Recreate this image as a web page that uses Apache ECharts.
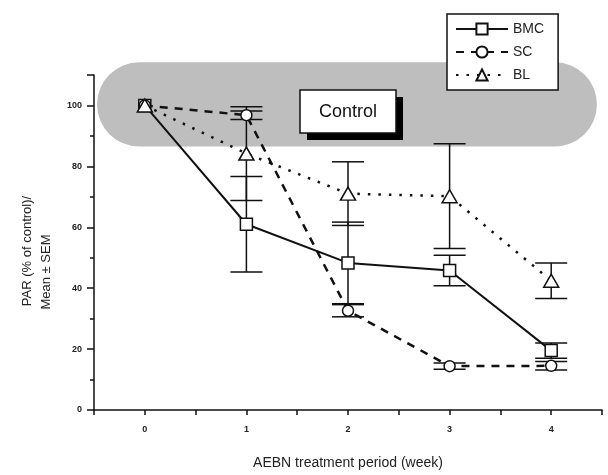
<!DOCTYPE html>
<html lang="en">
<head>
    <meta charset="UTF-8">
    <title>PAR</title>
</head>
<style>
    html, body { margin: 0; padding: 0; background: #fff; }
    #chart { width: 608px; height: 475px; }
</style>
<body>
<div id="chart"></div>
</body>
<script src="https://cdn.jsdelivr.net/npm/echarts@6/dist/echarts.min.js"></script>
<script>
    // weeks of AEBN treatment
    var weeks = [0, 1, 2, 3, 4];
    var xTicks = ['0', '1', '2', '3', '4'];
    var yTicks = [0, 20, 40, 60, 80, 100];

    // PAR (% of control), mean and SEM
    var bmcMean = [100, 61, 48.3, 45.8, 19.5];
    var bmcSem = [0, 15.7, 13.4, 5, 2.5];
    var scMean = [100, 96.8, 32.6, 14.4, 14.5];
    var scSem = [0, 1.4, 2, 1, 1.4];
    var blMean = [100, 84.2, 71.05, 70.2, 42.45];
    var blSem = [0, 15.4, 10.45, 17.2, 5.85];

    // grey "Control" band, in data units
    var bandX = [-0.47, 4.45];
    var bandY = [86.5, 114.2];

    var FONT = "'Liberation Sans', Arial, sans-serif";
    var INK = '#111';

    function pairs(mean) {
        return weeks.map(function (w, i) { return [w, mean[i]]; });
    }
    function bars(mean, sem) {
        var out = [];
        for (var i = 0; i < weeks.length; i++) {
            if (sem[i] > 0) out.push([weeks[i], mean[i] - sem[i], mean[i] + sem[i]]);
        }
        return out;
    }
    function errorBar(params, api) {
        var lo = api.coord([api.value(0), api.value(1)]);
        var hi = api.coord([api.value(0), api.value(2)]);
        var half = 16;
        var st = {stroke: INK, lineWidth: 1.5};
        return {
            type: 'group',
            children: [
                {type: 'line', shape: {x1: lo[0], y1: lo[1], x2: hi[0], y2: hi[1]}, style: st},
                {type: 'line', shape: {x1: lo[0] - half, y1: lo[1], x2: lo[0] + half, y2: lo[1]}, style: st},
                {type: 'line', shape: {x1: hi[0] - half, y1: hi[1], x2: hi[0] + half, y2: hi[1]}, style: st}
            ]
        };
    }

    var element = document.getElementById('chart');
    var myChart = echarts.init(element);

    var option = {
        animation: false,
        textStyle: {fontFamily: FONT},
        grid: {left: 94, right: 6, top: 75, bottom: 59},
        legend: {
            left: 447,
            top: 14,
            orient: 'vertical',
            data: ['BMC', 'SC', 'BL'],
            itemWidth: 52,
            itemHeight: 14,
            itemGap: 9,
            padding: [8, 14, 8, 8],
            backgroundColor: '#fff',
            borderColor: INK,
            borderWidth: 1.5,
            textStyle: {fontSize: 14, color: '#222', fontFamily: FONT}
        },
        xAxis: {
            type: 'value',
            min: -0.5,
            max: 4.5,
            interval: 0.5,
            name: 'AEBN treatment period (week)',
            nameLocation: 'middle',
            nameGap: 46,
            nameTextStyle: {fontSize: 14, color: '#222', fontFamily: FONT},
            axisLine: {onZero: false, lineStyle: {color: INK, width: 1.5}},
            axisTick: {length: 5, lineStyle: {color: INK, width: 1.5}},
            splitLine: {show: false},
            axisLabel: {
                margin: 15,
                fontSize: 9,
                fontWeight: 'bold',
                color: '#222',
                formatter: function (v) {
                    return Number.isInteger(v) && v >= 0 ? xTicks[v] : '';
                }
            }
        },
        yAxis: {
            type: 'value',
            min: 0,
            max: 110,
            interval: 20,
            axisLine: {show: true, onZero: false, lineStyle: {color: INK, width: 1.5}},
            axisTick: {show: true, length: 7, lineStyle: {color: INK, width: 1.5}},
            minorTick: {show: true, splitNumber: 2, length: 4, lineStyle: {color: INK, width: 1.5}},
            splitLine: {show: false},
            axisLabel: {
                margin: 12,
                fontSize: 9,
                fontWeight: 'bold',
                color: '#222',
                showMaxLabel: false,
                formatter: function (v) {
                    return yTicks.indexOf(v) >= 0 ? String(v) : '';
                }
            }
        },
        series: [
            {
                name: 'BMC-err', type: 'custom', renderItem: errorBar, z: 1,
                encode: {x: 0, y: [1, 2]}, data: bars(bmcMean, bmcSem)
            },
            {
                name: 'SC-err', type: 'custom', renderItem: errorBar, z: 1,
                encode: {x: 0, y: [1, 2]}, data: bars(scMean, scSem)
            },
            {
                name: 'BL-err', type: 'custom', renderItem: errorBar, z: 1,
                encode: {x: 0, y: [1, 2]}, data: bars(blMean, blSem)
            },
            {
                name: 'BMC', type: 'line', z: 3,
                data: pairs(bmcMean),
                symbol: 'rect', symbolSize: 12,
                lineStyle: {color: INK, width: 2},
                itemStyle: {color: '#fff', borderColor: INK, borderWidth: 1.5}
            },
            {
                name: 'SC', type: 'line', z: 3,
                data: pairs(scMean),
                symbol: 'circle', symbolSize: 11,
                lineStyle: {color: INK, width: 2.5, type: [8, 7]},
                itemStyle: {color: '#fff', borderColor: INK, borderWidth: 1.5}
            },
            {
                name: 'BL', type: 'line', z: 3,
                data: pairs(blMean),
                symbol: 'triangle', symbolSize: [15, 13],
                lineStyle: {color: INK, width: 2.5, type: [2.5, 8]},
                itemStyle: {color: '#fff', borderColor: INK, borderWidth: 1.5}
            }
        ]
    };
    myChart.setOption(option);

    // grey control band and annotation, placed from the axis scales
    var p0 = myChart.convertToPixel({gridIndex: 0}, [bandX[0], bandY[1]]);
    var p1 = myChart.convertToPixel({gridIndex: 0}, [bandX[1], bandY[0]]);
    var bandH = p1[1] - p0[1];
    myChart.setOption({
        graphic: [
            {
                type: 'rect', z: -10, silent: true,
                shape: {x: p0[0], y: p0[1], width: p1[0] - p0[0], height: bandH, r: bandH / 2},
                style: {fill: '#bebebe'}
            },
            {
                type: 'rect', z: 10, silent: true,
                shape: {x: 307, y: 97, width: 96, height: 43},
                style: {fill: '#000'}
            },
            {
                type: 'rect', z: 11, silent: true,
                shape: {x: 300, y: 90, width: 96, height: 43},
                style: {fill: '#fff', stroke: INK, lineWidth: 1.5}
            },
            {
                type: 'text', z: 12, silent: true,
                x: 348, y: 112,
                style: {text: 'Control', font: '18px ' + FONT, fill: '#111', align: 'center', verticalAlign: 'middle'}
            },
            {
                type: 'text', z: 12, silent: true,
                x: 27, y: 251, rotation: Math.PI / 2,
                style: {text: 'PAR (% of control)/', font: '13px ' + FONT, fill: '#222', align: 'center', verticalAlign: 'middle'}
            },
            {
                type: 'text', z: 12, silent: true,
                x: 46, y: 272, rotation: Math.PI / 2,
                style: {text: 'Mean \u00b1 SEM', font: '13px ' + FONT, fill: '#222', align: 'center', verticalAlign: 'middle'}
            }
        ]
    });
</script>
</html>
